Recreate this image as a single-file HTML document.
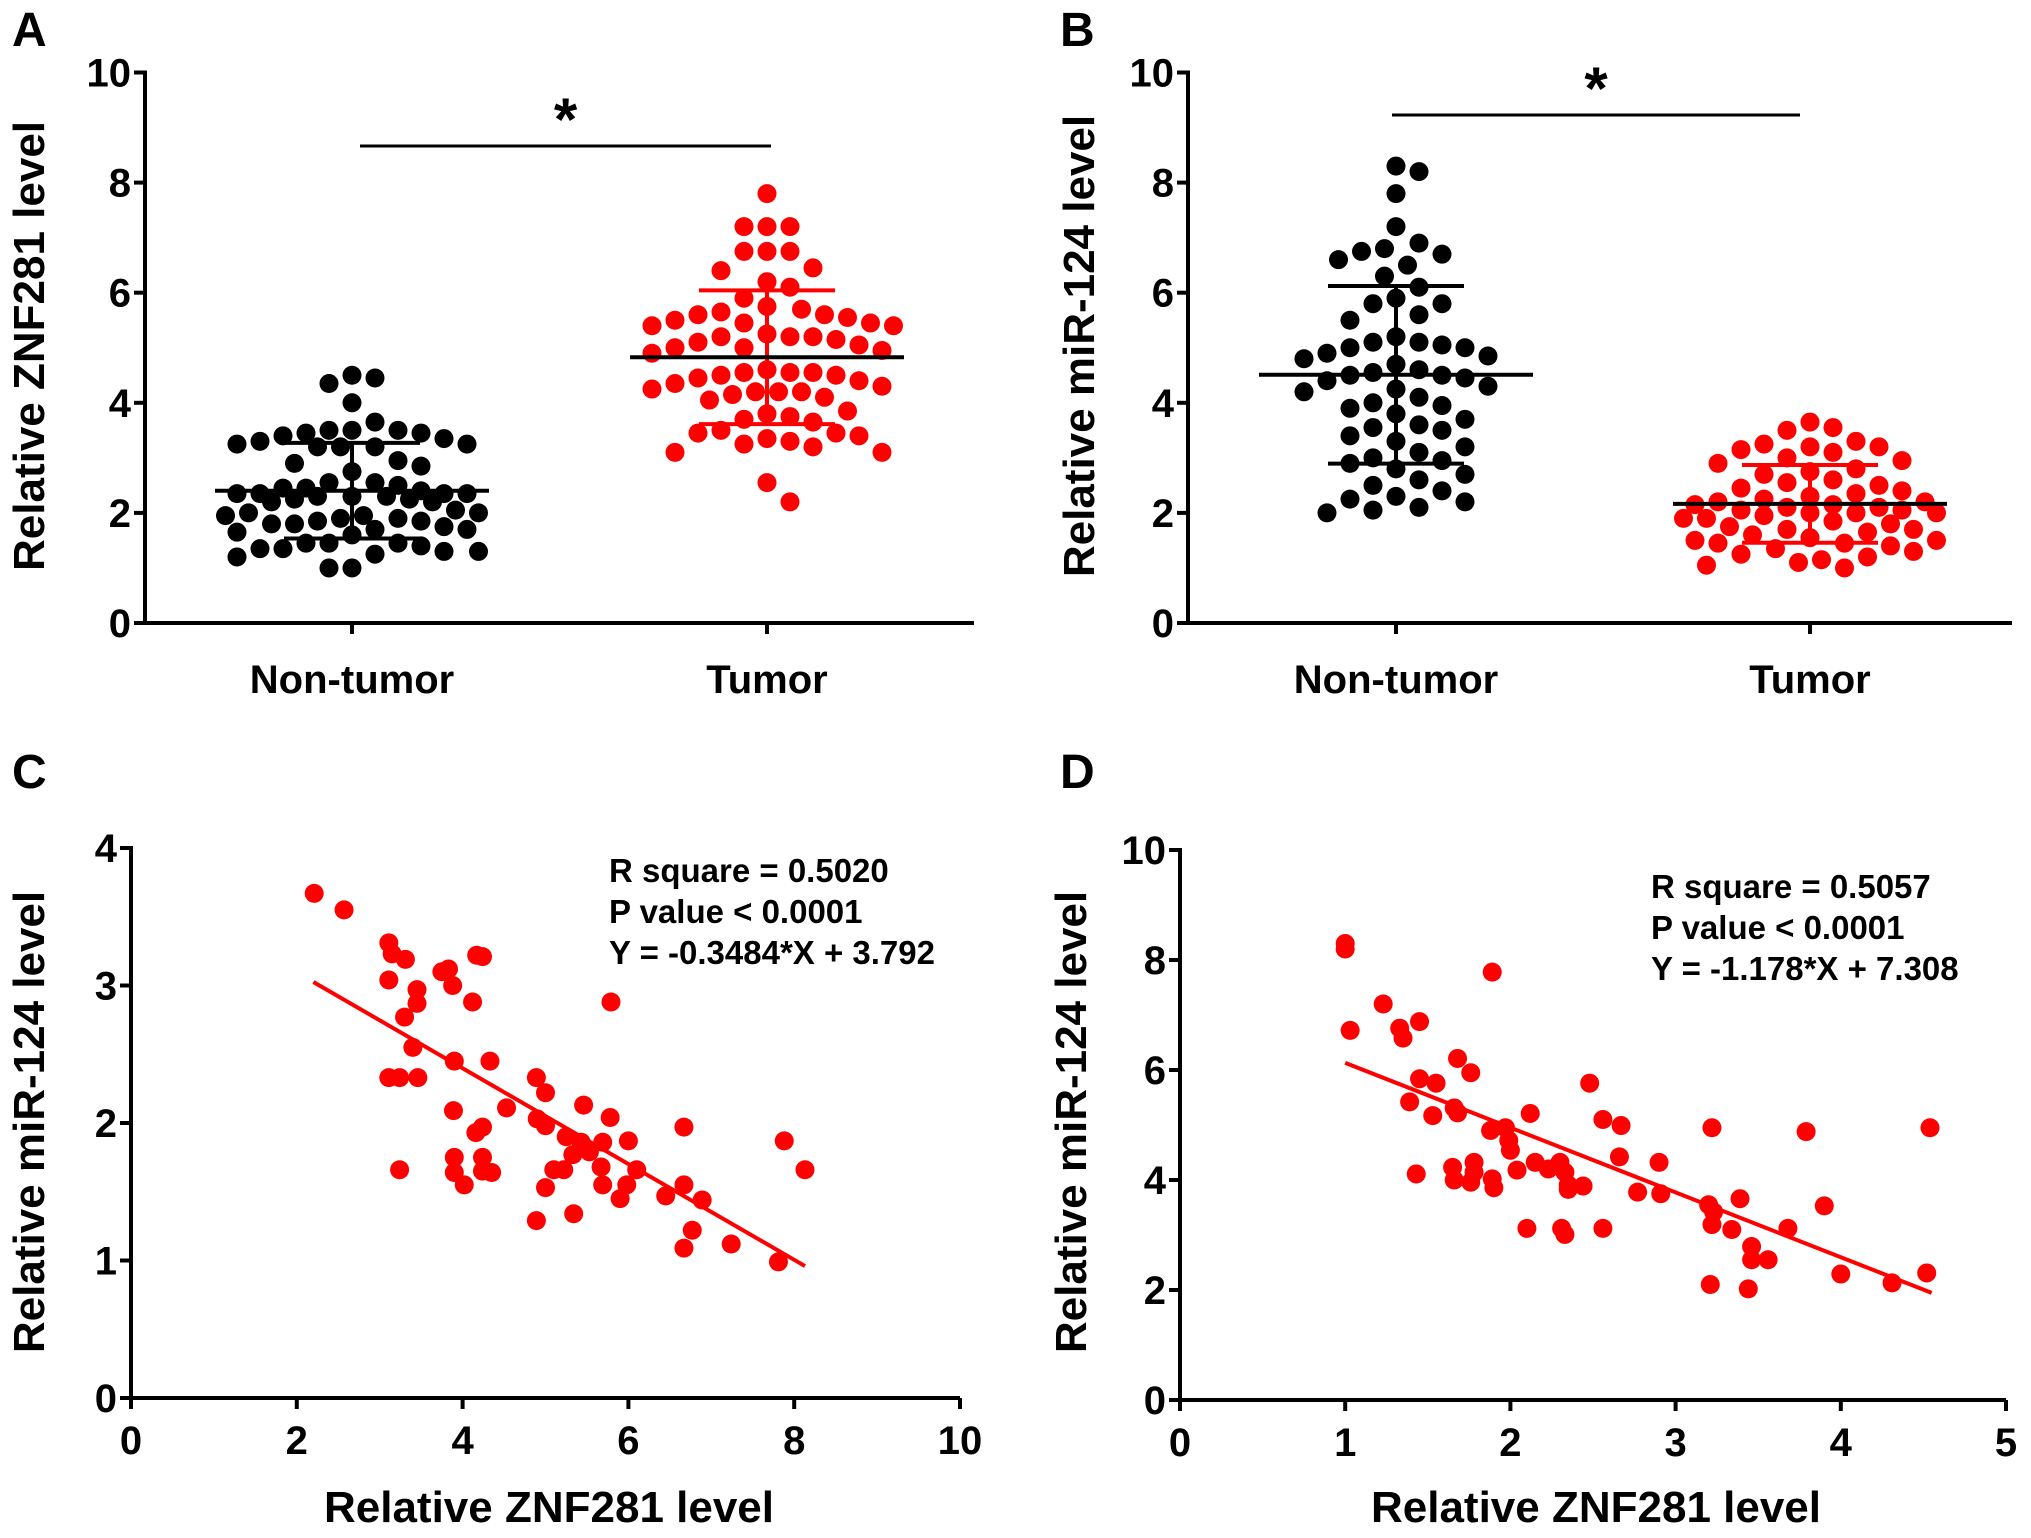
<!DOCTYPE html>
<html><head><meta charset="utf-8"><style>
html,body{margin:0;padding:0;background:#fff;}
svg{display:block;font-family:"Liberation Sans",Arial,sans-serif;}
</style></head><body>
<svg id="fig" width="2031" height="1538" viewBox="0 0 2031 1538" xmlns="http://www.w3.org/2000/svg">
<rect width="2031" height="1538" fill="#fff"/>
<g id="root"></g>
</svg>
<script>
// ---- data ----
const groupLabels = ["Non-tumor", "Tumor"];
const aNonTumor = [4.5,4.45,4.35,4.0,3.65,3.5,3.5,3.5,3.45,3.45,3.4,3.35,3.3,3.25,3.25,3.2,3.2,3.2,2.95,2.9,2.85,2.75,2.55,2.55,2.5,2.45,2.45,2.4,2.35,2.35,2.35,2.35,2.3,2.3,2.3,2.25,2.25,2.2,2.2,2.05,2.0,2.0,1.95,1.95,1.9,1.9,1.85,1.85,1.8,1.8,1.75,1.7,1.7,1.65,1.6,1.45,1.45,1.45,1.4,1.35,1.35,1.3,1.3,1.25,1.2,1.0,1.0];
const aTumor = [7.8,7.2,7.2,7.2,6.75,6.75,6.75,6.45,6.4,6.2,6.1,5.9,5.75,5.7,5.65,5.6,5.6,5.55,5.5,5.45,5.45,5.4,5.4,5.25,5.2,5.2,5.2,5.15,5.1,5.05,5.0,5.0,4.95,4.9,4.6,4.55,4.55,4.55,4.5,4.5,4.45,4.4,4.35,4.3,4.25,4.2,4.2,4.2,4.15,4.1,4.05,3.85,3.8,3.75,3.7,3.65,3.5,3.45,3.45,3.4,3.35,3.3,3.25,3.2,3.1,3.1,2.55,2.2];
const bNonTumor = [8.3,8.2,7.8,7.2,6.9,6.8,6.75,6.7,6.6,6.5,6.3,6.1,5.9,5.8,5.8,5.6,5.5,5.2,5.1,5.1,5.05,5.0,5.0,4.9,4.85,4.8,4.7,4.6,4.55,4.5,4.5,4.45,4.4,4.3,4.25,4.2,4.1,4.0,3.95,3.9,3.8,3.7,3.6,3.55,3.5,3.4,3.3,3.2,3.1,3.0,2.95,2.9,2.8,2.7,2.6,2.5,2.4,2.3,2.25,2.2,2.1,2.05,2.0];
const bTumor = [3.65,3.55,3.5,3.3,3.25,3.2,3.2,3.15,3.1,3.0,2.95,2.9,2.8,2.75,2.7,2.6,2.55,2.5,2.45,2.4,2.35,2.3,2.25,2.2,2.2,2.15,2.15,2.1,2.1,2.05,2.05,2.0,2.0,2.0,1.95,1.9,1.9,1.85,1.8,1.75,1.7,1.7,1.65,1.6,1.55,1.5,1.5,1.45,1.45,1.4,1.35,1.3,1.25,1.2,1.15,1.1,1.05,1.0];
const cX = [2.21,2.57,3.11,3.15,3.31,3.11,3.45,3.45,3.30,3.4,3.11,3.24,3.46,3.24,3.75,3.83,3.88,4.12,4.17,4.24,3.9,4.33,3.89,3.9,3.9,4.02,4.16,4.24,4.24,4.24,4.35,4.53,4.89,5.0,4.9,5.0,5.25,5.46,5.33,5.43,5.53,5.69,5.1,5.22,5.67,5.69,5.0,4.89,5.34,5.78,5.79,6.0,6.1,5.98,5.9,6.45,6.67,6.67,6.89,6.77,6.67,7.24,7.81,7.88,8.13];
const cY = [3.67,3.55,3.31,3.23,3.19,3.04,2.97,2.87,2.77,2.55,2.33,2.33,2.33,1.66,3.10,3.12,3.0,2.88,3.22,3.21,2.45,2.45,2.09,1.75,1.64,1.55,1.93,1.97,1.75,1.65,1.64,2.11,2.33,2.22,2.03,1.98,1.90,2.13,1.77,1.86,1.79,1.86,1.66,1.66,1.68,1.55,1.53,1.29,1.34,2.04,2.88,1.87,1.66,1.55,1.45,1.47,1.97,1.55,1.44,1.22,1.09,1.12,0.99,1.87,1.66];
const cFit = [-0.3484, 3.792];
const cFitRange = [2.2, 8.13];
const dX = [1.0,1.0,1.03,1.89,1.23,1.33,1.35,1.45,1.68,1.76,1.45,1.55,1.39,1.53,1.66,1.68,1.43,1.65,1.66,1.78,1.78,1.76,1.89,1.90,1.88,1.97,1.99,2.0,2.12,2.04,2.15,2.23,2.3,2.33,2.35,2.44,2.35,2.1,2.31,2.33,2.48,2.56,2.67,2.66,2.56,2.77,2.9,2.91,3.22,3.2,3.23,3.22,3.34,3.39,3.46,3.46,3.56,3.21,3.44,3.68,3.79,3.9,4.0,4.31,4.52,4.54];
const dY = [8.3,8.2,6.72,7.78,7.2,6.76,6.58,6.88,6.21,5.95,5.84,5.76,5.42,5.17,5.31,5.22,4.11,4.23,4.0,4.32,4.14,3.96,4.02,3.86,4.9,4.95,4.72,4.54,5.21,4.18,4.32,4.2,4.32,4.14,3.91,3.89,3.83,3.12,3.12,3.01,5.76,5.1,4.99,4.42,3.12,3.78,4.32,3.75,4.95,3.55,3.42,3.19,3.1,3.66,2.79,2.55,2.55,2.1,2.02,3.12,4.88,3.53,2.29,2.13,2.31,4.95];
const dFit = [-1.178, 7.308];
const dFitRange = [1.0, 4.55];
const ticksA = [0,2,4,6,8,10];
const ticksC_y = [0,1,2,3,4];
const ticksC_x = [0,2,4,6,8,10];
const ticksD_y = [0,2,4,6,8,10];
const ticksD_x = [0,1,2,3,4,5];
const annC = ["R square = 0.5020","P value < 0.0001","Y = -0.3484*X + 3.792"];
const annD = ["R square = 0.5057","P value < 0.0001","Y = -1.178*X + 7.308"];

const NS = "http://www.w3.org/2000/svg";
const root = document.getElementById("root");
function mk(tag, attrs, parent){
  const e = document.createElementNS(NS, tag);
  for (const k in attrs) e.setAttribute(k, attrs[k]);
  (parent||root).appendChild(e);
  return e;
}
function lin(d0,d1,r0,r1){return v=>r0+(v-d0)*(r1-r0)/(d1-d0);}
function mean(a){return a.reduce((s,v)=>s+v,0)/a.length;}
function sd(a){const m=mean(a);return Math.sqrt(a.reduce((s,v)=>s+(v-m)*(v-m),0)/(a.length-1));}

function txt(x,y,s,size,opts){
  const t = mk("text",{x:x,y:y,"font-size":size,"font-weight":"bold",fill:"#000","text-anchor":(opts&&opts.anchor)||"middle"});
  if(opts&&opts.rot) t.setAttribute("transform","rotate(-90 "+x+" "+y+")");
  t.textContent = s;
  return t;
}

function yAxis(x, yfun, ticks, y0, y1){
  const g = mk("g",{});
  
  
  mk("line",{x1:x,y1:y0+2,x2:x,y2:y1,stroke:"#000","stroke-width":4},g);
  ticks.forEach(t=>{
    const y=yfun(t);
    const tk=mk("line",{x1:x-11,y1:y,x2:x,y2:y,stroke:"#000","stroke-width":4},g);
    
    
    const l=txt(x-14,y+14,String(t),40,{anchor:"end"});
    g.appendChild(l);
    
    
  });
}
function xAxisNum(y, xfun, ticks, x0, x1){
  const g = mk("g",{});
  
  
  mk("line",{x1:x0-2,y1:y,x2:x1,y2:y,stroke:"#000","stroke-width":4},g);
  ticks.forEach(t=>{
    const x=xfun(t);
    const tk=mk("line",{x1:x,y1:y,x2:x,y2:y+11,stroke:"#000","stroke-width":4},g);
    
    
    const l=txt(x,y+56,String(t),40);
    g.appendChild(l);
    
    
  });
}

function swarm(vals, cx, yfun, color, name){
  const sorted = vals.slice().sort((a,b)=>b-a);
  const placed=[]; const step=11.5, minD=22.5, maxHalf=135;
  sorted.forEach(v=>{
    const y=yfun(v);
    let best=null, bestD=-1, done=false;
    for(let i=0;i<60;i++){
      const k = i===0?0:(i%2? (i+1)/2 : -i/2);
      const x = cx+k*step;
      if(Math.abs(x-cx)>maxHalf) continue;
      let md=1e9;
      placed.forEach(p=>{md=Math.min(md,Math.hypot(p[0]-x,p[1]-y));});
      if(md>=minD){placed.push([x,y]);done=true;break;}
      if(md>bestD){bestD=md;best=x;}
    }
    if(!done) placed.push([best,y]);
  });
  placed.forEach(p=>{
    const c=mk("circle",{cx:p[0],cy:p[1],r:9.5,fill:color});
    
    
  });
}
function meanSD(vals, cx, yfun, color, halfMean, halfCap){
  const m=mean(vals), s=sd(vals);
  const g=mk("g",{});
  
  
  mk("line",{x1:cx,y1:yfun(m-s),x2:cx,y2:yfun(m+s),stroke:color,"stroke-width":4},g);
  mk("line",{x1:cx-halfCap,y1:yfun(m+s),x2:cx+halfCap,y2:yfun(m+s),stroke:color,"stroke-width":4},g);
  mk("line",{x1:cx-halfCap,y1:yfun(m-s),x2:cx+halfCap,y2:yfun(m-s),stroke:color,"stroke-width":4},g);
  mk("line",{x1:cx-halfMean,y1:yfun(m),x2:cx+halfMean,y2:yfun(m),stroke:"#000","stroke-width":4},g);
}

function dotPanel(cfg){
  const yf = lin(0,10,cfg.y0,cfg.y1);
  yAxis(cfg.ax, yf, ticksA, cfg.y0, cfg.y1-2);
  const g=mk("g",{});
  
  
  mk("line",{x1:cfg.ax-2,y1:cfg.y0,x2:cfg.axEnd,y2:cfg.y0,stroke:"#000","stroke-width":4},g);
  cfg.gx.forEach((gx,i)=>{
    mk("line",{x1:gx,y1:cfg.y0,x2:gx,y2:cfg.y0+11,stroke:"#000","stroke-width":4},g);
    const l=txt(gx,cfg.y0+70,groupLabels[i],40);
    g.appendChild(l);
    
    
  });
  swarm(cfg.data[0], cfg.gx[0], yf, "#000", "point-non-tumor");
  swarm(cfg.data[1], cfg.gx[1], yf, "#ff0000", "point-tumor");
  meanSD(cfg.data[0], cfg.gx[0], yf, cfg.barColor[0], 137, 68);
  meanSD(cfg.data[1], cfg.gx[1], yf, cfg.barColor[1], 137, 68);
  const sig=mk("line",{x1:cfg.sig[0],y1:cfg.sig[2],x2:cfg.sig[1],y2:cfg.sig[2],stroke:"#000","stroke-width":3});
  
  
  const st=txt((cfg.sig[0]+cfg.sig[1])/2,cfg.sig[2]-6,"*",60);
  
  
  const yt=txt(cfg.titleX,346,cfg.yTitle,44,{rot:true});
  
  
}

function scatterPanel(cfg){
  const xf=lin(0,cfg.xmax,cfg.ax,cfg.xEnd), yf=lin(0,cfg.ymax,cfg.y0,cfg.y1);
  yAxis(cfg.ax, yf, cfg.yt, cfg.y0, cfg.y1-2);
  xAxisNum(cfg.y0, xf, cfg.xt, cfg.ax, cfg.xEnd);
  cfg.xs.forEach((x,i)=>{
    const c=mk("circle",{cx:xf(x),cy:yf(cfg.ys[i]),r:9.5,fill:"#ff0000"});
    
    
  });
  const f=cfg.fit, r=cfg.range;
  const ln=mk("line",{x1:xf(r[0]),y1:yf(f[0]*r[0]+f[1]),x2:xf(r[1]),y2:yf(f[0]*r[1]+f[1]),stroke:"#ff0000","stroke-width":4});
  
  
  cfg.ann.forEach((s,i)=>{
    const t=txt(cfg.annX,cfg.annY+i*41,s,33,{anchor:"start"});
    
    
  });
  const yt=txt(cfg.titleX,1122,"Relative miR-124 level",44,{rot:true});
  
  
  const xt=txt(cfg.xTitleX,1522,"Relative ZNF281 level",44);
  
  
}

dotPanel({ax:145,axEnd:974,y0:623,y1:72.5,gx:[352,767],data:[aNonTumor,aTumor],barColor:["#000","#ff0000"],sig:[360,771,146],titleX:44,yTitle:"Relative ZNF281 level"});
dotPanel({ax:1188,axEnd:2012,y0:623,y1:72.5,gx:[1396,1810],data:[bNonTumor,bTumor],barColor:["#000","#ff0000"],sig:[1392,1800,115],titleX:1094,yTitle:"Relative miR-124 level"});
scatterPanel({ax:131,xEnd:960,y0:1398,y1:848,xmax:10,ymax:4,xt:ticksC_x,yt:ticksC_y,xs:cX,ys:cY,fit:cFit,range:cFitRange,ann:annC,annX:609,annY:882,titleX:44,xTitleX:549});
scatterPanel({ax:1180,xEnd:2006,y0:1400,y1:850,xmax:5,ymax:10,xt:ticksD_x,yt:ticksD_y,xs:dX,ys:dY,fit:dFit,range:dFitRange,ann:annD,annX:1651,annY:898,titleX:1086,xTitleX:1596});

[["A",12,46],["B",1060,46],["C",12,788],["D",1060,788]].forEach(p=>{
  const t=txt(p[1],p[2],p[0],48,{anchor:"start"});
  
  
});
</script>
</body></html>
